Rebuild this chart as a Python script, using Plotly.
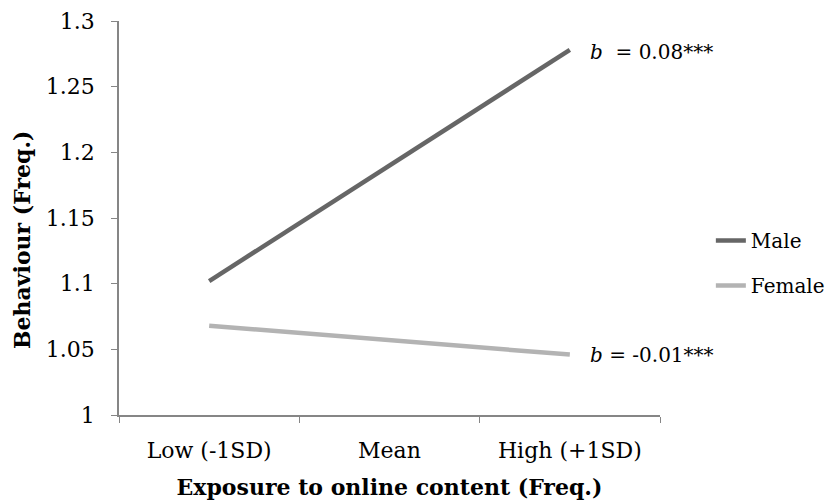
import plotly.graph_objects as go

categories = ["Low (-1SD)", "Mean", "High (+1SD)"]
male = [1.102, 1.19, 1.278]
female = [1.068, 1.057, 1.046]
y_ticks = [1, 1.05, 1.1, 1.15, 1.2, 1.25, 1.3]
y_ticklabels = ["1", "1.05", "1.1", "1.15", "1.2", "1.25", "1.3"]

FONT = "DejaVu Serif"

fig = go.Figure()
fig.add_trace(go.Scatter(x=categories, y=male, mode="lines", name="Male", legendgroup="m",
                         line=dict(color="#666666", width=4.5)))
fig.add_trace(go.Scatter(x=categories, y=female, mode="lines", name="Female", legendgroup="f",
                         line=dict(color="#b3b3b3", width=4.5)))

fig.add_annotation(x=categories[-1], y=male[-1], xref="x", yref="y",
                   text="<i>b</i>  = 0.08***", showarrow=False, yshift=-2,
                   xanchor="left", xshift=18, font=dict(family=FONT, size=20, color="black"))
fig.add_annotation(x=categories[-1], y=female[-1], xref="x", yref="y",
                   text="<i>b</i> = -0.01***", showarrow=False,
                   xanchor="left", xshift=18, font=dict(family=FONT, size=20, color="black"))
fig.add_annotation(x=0, y=0.444, xref="paper", yref="paper", xshift=-97,
                   text="<b>Behaviour (Freq.)</b>", textangle=-90, showarrow=False,
                   xanchor="center", yanchor="middle",
                   font=dict(family=FONT, size=22, color="black"))

fig.update_layout(
    width=840, height=503,
    margin=dict(l=111, r=188, t=13, b=96),
    plot_bgcolor="white", paper_bgcolor="white",
    font=dict(family=FONT, size=20, color="black"),
    showlegend=True,
    legend=dict(x=1.094, y=0.386, xanchor="left", yanchor="middle",
                font=dict(family=FONT, size=20),
                tracegroupgap=16, bgcolor="rgba(0,0,0,0)"),
    xaxis=dict(
        showline=True, linecolor="#868686", linewidth=1.5,
        ticks="outside", ticklen=6, tickcolor="#868686", tickson="boundaries",
        showgrid=False, range=[-0.5, 2.5], ticklabelstandoff=15, automargin=False,
        title=dict(text="<b>Exposure to online content (Freq.)</b>",
                   font=dict(family=FONT, size=22), standoff=17),
        tickfont=dict(family=FONT, size=22),
    ),
    yaxis=dict(
        range=[1, 1.3], tickvals=y_ticks, ticktext=y_ticklabels,
        showline=True, linecolor="#868686", linewidth=1.5,
        ticks="outside", ticklen=6, tickcolor="#868686", automargin=False,
        showgrid=False, zeroline=False, ticklabelstandoff=12,
        tickfont=dict(family=FONT, size=22),
    ),
)

fig.write_html("out.html")
